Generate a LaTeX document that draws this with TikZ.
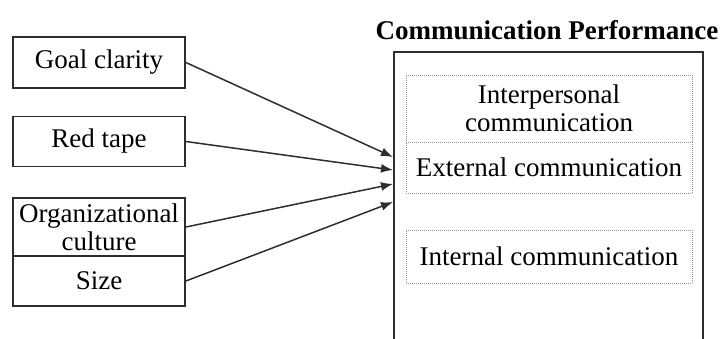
\documentclass[tikz,border=0pt]{standalone}
\usepackage{fontspec}
\setmainfont{Liberation Serif}
\usetikzlibrary{arrows.meta}
\definecolor{edge}{HTML}{2E2E2E}
\tikzset{
  txt/.style={font=\fontsize{27}{28}\selectfont, text=black, align=center, inner sep=0pt},
  lbox/.style={txt, draw=edge, line width=1.8pt, minimum width=172pt},
  dbox/.style={txt, draw=gray!85, line width=1pt, dash pattern=on 1pt off 1pt, minimum width=286pt},
  bigbox/.style={draw=edge, line width=1.8pt, minimum width=309pt, minimum height=320pt, anchor=north west, inner sep=0pt},
  arr/.style={draw=edge, line width=1.5pt, -{Latex[length=12pt,width=9pt]}}
}
\begin{document}
\begin{tikzpicture}[x=1pt,y=-1pt]
\useasboundingbox (0,0) rectangle (723,338);
\clip (0,0) rectangle (723,338);

% factors on the left
\node[lbox, minimum height=51pt] (goal) at (99,62.5) {Goal clarity};
\node[lbox, minimum height=50pt] (red) at (99,141.5) {Red tape};
\node[lbox, minimum height=58pt] (org) at (99,227) {Organizational\\culture};
\node[lbox, minimum height=50pt] (size) at (99,281) {Size};

% performance box
\node[txt, font=\fontsize{27}{28}\selectfont\bfseries] (title) at (547,30) {Communication Performance};
\node[bigbox] (perf) at (393,51) {};

\node[dbox, minimum height=67pt] (inter) at (549,108.5) {Interpersonal\\communication};
\node[dbox, minimum height=51pt] (ext) at (549,167.5) {External communication};
\node[dbox, minimum height=53pt] (int) at (549,256.5) {Internal communication};

% arrow targets on the left side of the performance box
\path (perf.north west) ++(0,106) coordinate (e1);
\path (perf.north west) ++(0,119) coordinate (e2);
\path (perf.north west) ++(0,133) coordinate (e3);
\path (perf.north west) ++(0,151) coordinate (e4);

\draw[arr] (goal.east) -- (e1);
\draw[arr] (red.east) -- (e2);
\draw[arr] (org.east) -- (e3);
\draw[arr] (size.east) -- (e4);
\end{tikzpicture}
\end{document}
